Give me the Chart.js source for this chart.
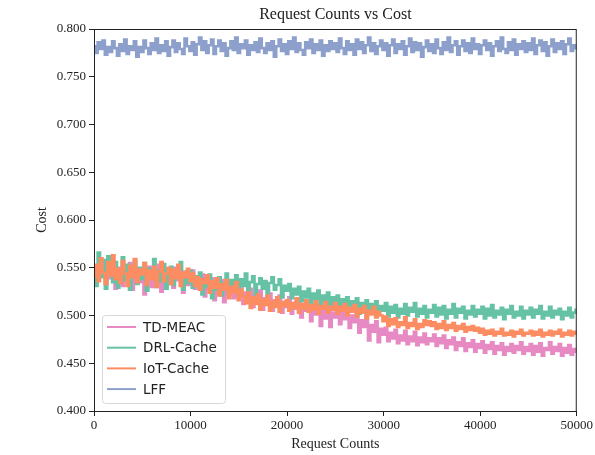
<!DOCTYPE html>
<html>
<head>
<meta charset="utf-8">
<script src="https://cdn.jsdelivr.net/npm/chart.js@4/dist/chart.umd.min.js"></script>
<style>
  html, body { margin: 0; padding: 0; background: #fff; }
  canvas { display: block; }
</style>
</head>
<body>
<canvas id="myChart" width="595" height="455"></canvas>
<script>
// one sample every 250 requests, 0 .. 50000
const STEP = 250;

const seriesNames = ['TD-MEAC', 'DRL-Cache', 'IoT-Cache', 'LFF'];
const seriesColors = ['#e78ac3', '#66c2a5', '#fc8d62', '#8da0cb'];

const yTicks = [0.400, 0.450, 0.500, 0.550, 0.600, 0.650, 0.700, 0.750, 0.800];
const xTicks = [0, 10000, 20000, 30000, 40000, 50000];

const tdMeac = [
  0.548,0.536,0.552,0.541,0.557,0.533,0.546,0.539,0.553,0.528,0.544,0.550,0.531,0.547,0.538,0.555,0.527,0.543,0.549,0.535,
  0.546,0.522,0.540,0.551,0.530,0.544,0.536,0.553,0.525,0.541,0.548,0.533,0.545,0.529,0.550,0.537,0.543,0.524,0.546,0.532,
  0.540,0.547,0.528,0.538,0.531,0.543,0.520,0.534,0.527,0.539,0.516,0.532,0.525,0.537,0.514,0.529,0.522,0.535,0.518,0.527,
  0.520,0.531,0.512,0.524,0.517,0.528,0.509,0.521,0.515,0.526,0.506,0.518,0.512,0.523,0.505,0.516,0.510,0.521,0.503,0.514,
  0.509,0.519,0.502,0.513,0.507,0.517,0.498,0.511,0.505,0.515,0.494,0.508,0.501,0.512,0.489,0.506,0.497,0.510,0.488,0.503,
  0.498,0.509,0.491,0.504,0.496,0.507,0.487,0.500,0.493,0.503,0.482,0.495,0.488,0.499,0.474,0.490,0.483,0.494,0.472,0.486,
  0.480,0.487,0.473,0.482,0.476,0.485,0.471,0.479,0.474,0.484,0.470,0.478,0.473,0.483,0.469,0.477,0.472,0.481,0.470,0.476,
  0.473,0.480,0.468,0.476,0.471,0.479,0.466,0.474,0.470,0.477,0.464,0.472,0.468,0.476,0.463,0.471,0.467,0.474,0.462,0.470,
  0.466,0.473,0.461,0.469,0.465,0.472,0.460,0.468,0.464,0.471,0.459,0.467,0.463,0.470,0.461,0.468,0.464,0.472,0.460,0.467,
  0.463,0.470,0.459,0.468,0.462,0.471,0.458,0.466,0.464,0.472,0.460,0.467,0.463,0.470,0.458,0.466,0.461,0.469,0.459,0.465,0.462
];

const drlCache = [
  0.552,0.531,0.566,0.540,0.558,0.528,0.562,0.545,0.535,0.556,0.529,0.548,0.561,0.537,0.553,0.527,0.546,0.557,0.533,0.550,
  0.538,0.555,0.526,0.549,0.541,0.559,0.530,0.547,0.536,0.554,0.528,0.545,0.551,0.532,0.548,0.539,0.556,0.527,0.543,0.534,
  0.547,0.529,0.541,0.533,0.545,0.522,0.538,0.530,0.543,0.518,0.536,0.527,0.540,0.521,0.534,0.544,0.525,0.537,0.530,0.542,
  0.523,0.538,0.531,0.544,0.526,0.535,0.541,0.522,0.533,0.539,0.528,0.536,0.520,0.534,0.540,0.527,0.532,0.538,0.519,0.531,
  0.526,0.533,0.518,0.528,0.522,0.530,0.515,0.525,0.519,0.528,0.512,0.523,0.517,0.526,0.510,0.521,0.515,0.524,0.509,0.519,
  0.513,0.521,0.507,0.517,0.511,0.519,0.504,0.515,0.509,0.518,0.502,0.513,0.508,0.516,0.503,0.512,0.506,0.515,0.501,0.510,
  0.505,0.513,0.499,0.509,0.503,0.511,0.498,0.507,0.502,0.512,0.500,0.508,0.504,0.513,0.499,0.507,0.502,0.510,0.498,0.506,
  0.503,0.511,0.499,0.508,0.501,0.510,0.497,0.506,0.502,0.512,0.498,0.507,0.503,0.509,0.497,0.505,0.501,0.510,0.499,0.506,
  0.502,0.509,0.497,0.507,0.500,0.511,0.498,0.505,0.501,0.508,0.496,0.506,0.502,0.510,0.498,0.504,0.500,0.509,0.497,0.505,
  0.501,0.508,0.498,0.506,0.502,0.510,0.497,0.504,0.500,0.509,0.498,0.505,0.501,0.507,0.496,0.504,0.500,0.508,0.498,0.503,0.506
];

const iotCache = [
  0.541,0.553,0.536,0.560,0.545,0.533,0.556,0.542,0.563,0.538,0.549,0.534,0.557,0.544,0.531,0.552,0.540,0.559,0.535,0.548,
  0.543,0.555,0.532,0.547,0.538,0.551,0.530,0.546,0.556,0.536,0.544,0.550,0.533,0.548,0.539,0.553,0.531,0.545,0.540,0.549,
  0.536,0.544,0.531,0.540,0.527,0.538,0.534,0.542,0.524,0.536,0.529,0.539,0.521,0.533,0.527,0.537,0.518,0.530,0.524,0.535,
  0.516,0.527,0.520,0.513,0.524,0.508,0.519,0.512,0.522,0.506,0.517,0.511,0.521,0.505,0.515,0.509,0.519,0.504,0.514,0.510,
  0.516,0.505,0.513,0.508,0.518,0.503,0.512,0.507,0.516,0.504,0.511,0.506,0.515,0.502,0.510,0.507,0.514,0.503,0.509,0.506,
  0.513,0.502,0.509,0.505,0.512,0.500,0.508,0.504,0.511,0.499,0.507,0.503,0.510,0.497,0.505,0.501,0.509,0.498,0.504,0.500,
  0.494,0.499,0.489,0.496,0.491,0.497,0.488,0.493,0.490,0.498,0.487,0.492,0.489,0.496,0.486,0.491,0.488,0.495,0.490,0.494,
  0.489,0.493,0.486,0.491,0.487,0.494,0.485,0.490,0.487,0.492,0.484,0.489,0.486,0.491,0.483,0.488,0.485,0.489,0.484,0.487,
  0.482,0.486,0.480,0.484,0.481,0.485,0.479,0.483,0.481,0.486,0.479,0.482,0.480,0.484,0.478,0.483,0.481,0.485,0.479,0.482,
  0.481,0.484,0.479,0.483,0.480,0.485,0.478,0.482,0.480,0.484,0.479,0.483,0.481,0.485,0.478,0.482,0.480,0.484,0.479,0.483,0.481
];

const lff = [
  0.782,0.775,0.786,0.779,0.788,0.773,0.781,0.776,0.787,0.780,0.772,0.784,0.777,0.789,0.774,0.782,0.778,0.787,0.771,0.781,
  0.776,0.788,0.780,0.774,0.785,0.778,0.790,0.775,0.783,0.777,0.787,0.772,0.781,0.788,0.776,0.785,0.779,0.774,0.790,0.782,
  0.777,0.786,0.773,0.784,0.791,0.778,0.787,0.775,0.783,0.789,0.774,0.782,0.788,0.777,0.785,0.772,0.780,0.787,0.778,0.791,
  0.775,0.784,0.780,0.788,0.773,0.783,0.778,0.786,0.776,0.790,0.780,0.775,0.785,0.778,0.787,0.771,0.782,0.789,0.777,0.784,
  0.774,0.787,0.779,0.791,0.776,0.785,0.778,0.773,0.786,0.780,0.789,0.775,0.784,0.778,0.788,0.772,0.783,0.777,0.787,0.779,
  0.785,0.776,0.790,0.780,0.774,0.787,0.778,0.784,0.773,0.789,0.779,0.786,0.775,0.783,0.791,0.777,0.785,0.774,0.782,0.788,
  0.778,0.785,0.772,0.783,0.789,0.775,0.784,0.779,0.787,0.773,0.782,0.790,0.776,0.786,0.778,0.785,0.771,0.781,0.788,0.777,
  0.784,0.775,0.789,0.780,0.774,0.786,0.778,0.791,0.776,0.783,0.787,0.773,0.782,0.788,0.777,0.785,0.775,0.790,0.779,0.784,
  0.774,0.783,0.788,0.778,0.785,0.772,0.782,0.787,0.777,0.791,0.779,0.775,0.786,0.778,0.789,0.773,0.784,0.779,0.787,0.776,
  0.785,0.778,0.790,0.774,0.783,0.788,0.777,0.786,0.772,0.782,0.789,0.776,0.785,0.779,0.787,0.774,0.784,0.790,0.777,0.783,0.780
];

const seriesValues = [tdMeac, drlCache, iotCache, lff];

// matplotlib draws later series on top; chart.js draws lower "order" on top
const drawOrder = [4, 3, 2, 1];

const SERIF = '"Liberation Serif", "DejaVu Serif", serif';
const SANS = '"DejaVu Sans", sans-serif';

function toPoints(values) {
  return values.map((v, i) => ({ x: i * STEP, y: v }));
}

// frame, title and legend box in the lower left, like matplotlib
const framePlugin = {
  id: 'frame',
  afterDraw(chart) {
    const ctx = chart.ctx;
    const area = chart.chartArea;
    ctx.save();

    ctx.strokeStyle = '#222';
    ctx.lineWidth = 1;
    ctx.strokeRect(area.left + 0.5, area.top + 0.5, area.right - area.left - 1, area.bottom - area.top);

    ctx.fillStyle = '#222';
    ctx.font = '16px ' + SERIF;
    ctx.textAlign = 'center';
    ctx.textBaseline = 'middle';
    ctx.fillText('Request Counts vs Cost', (area.left + area.right) / 2, 15);

    const bx = 102, by = 315, bw = 123, bh = 88;
    ctx.fillStyle = 'rgba(255,255,255,0.8)';
    ctx.strokeStyle = '#d8d8d8';
    ctx.lineWidth = 1;
    ctx.beginPath();
    ctx.roundRect(bx + 0.5, by + 0.5, bw, bh, 3);
    ctx.fill();
    ctx.stroke();

    ctx.font = '13.5px ' + SANS;
    ctx.textAlign = 'left';
    chart.data.datasets.forEach((ds, i) => {
      const y = 327 + i * 20.7;
      ctx.strokeStyle = ds.borderColor;
      ctx.lineWidth = 2;
      ctx.beginPath();
      ctx.moveTo(107, y);
      ctx.lineTo(136, y);
      ctx.stroke();
      ctx.fillStyle = '#222';
      ctx.fillText(ds.label, 143, y + 1);
    });

    ctx.restore();
  }
};

const ctx = document.getElementById('myChart');

new Chart(ctx, {
  type: 'line',
  data: {
    datasets: seriesNames.map((name, i) => ({
      label: name,
      data: toPoints(seriesValues[i]),
      borderColor: seriesColors[i],
      backgroundColor: seriesColors[i],
      borderWidth: 2.6,
      pointRadius: 0,
      stepped: 'middle',
      fill: false,
      order: drawOrder[i]
    }))
  },
  options: {
    responsive: false,
    animation: false,
    devicePixelRatio: 1,
    layout: { padding: { top: 29, right: 15, left: 0, bottom: 0 } },
    plugins: {
      legend: { display: false },
      title: { display: false },
      tooltip: { enabled: false }
    },
    scales: {
      x: {
        type: 'linear',
        min: 0,
        max: 50000,
        afterBuildTicks(scale) {
          scale.ticks = xTicks.map(v => ({ value: v }));
        },
        afterFit(scale) {
          scale.height = 44;
        },
        grid: { drawOnChartArea: false, drawTicks: true, tickLength: 5, color: '#222' },
        border: { display: true, color: '#222' },
        ticks: {
          color: '#222',
          padding: 2,
          maxRotation: 0,
          font: { family: SERIF, size: 13 },
          callback: v => String(v)
        },
        title: {
          display: true,
          text: 'Request Counts',
          color: '#222',
          font: { family: SERIF, size: 14 },
          padding: { top: 0, bottom: 2 }
        }
      },
      y: {
        min: 0.4,
        max: 0.8,
        afterBuildTicks(scale) {
          scale.ticks = yTicks.map(v => ({ value: v }));
        },
        afterFit(scale) {
          scale.width = 94;
        },
        grid: { drawOnChartArea: false, drawTicks: true, tickLength: 5, color: '#222' },
        border: { display: true, color: '#222' },
        ticks: {
          color: '#222',
          padding: 3,
          font: { family: SERIF, size: 13 },
          callback: v => Number(v).toFixed(3)
        },
        title: {
          display: true,
          text: 'Cost',
          color: '#222',
          font: { family: SERIF, size: 14 },
          padding: { top: 34, bottom: 0 }
        }
      }
    }
  },
  plugins: [framePlugin]
});
</script>
</body>
</html>
